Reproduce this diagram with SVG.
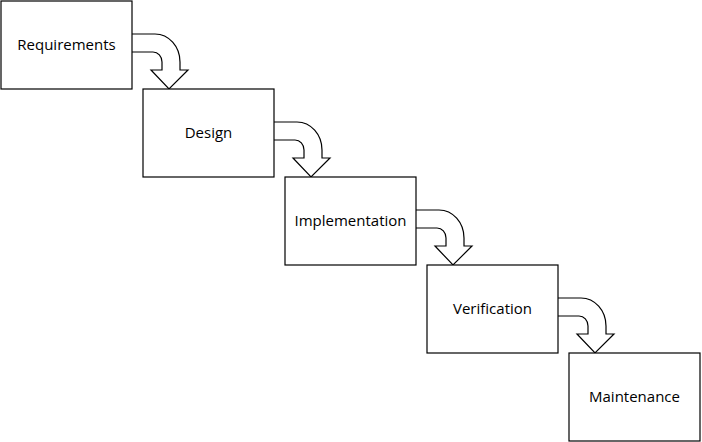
<svg xmlns="http://www.w3.org/2000/svg" width="702" height="442" viewBox="0 0 702 442">
<defs>
<style>
.box{fill:#fff;stroke:#000;stroke-width:1.2}
.arr{fill:#fff;stroke:#000;stroke-width:1.2;stroke-linejoin:miter}
.lbl{font-family:"Open Sans","Noto Sans",sans-serif;font-size:15px;fill:#000;text-anchor:middle}
</style>
<path id="a" class="arr" d="M132,34 H155 A25,28 0 0 1 180,62 V70 H188 L169,89 L151,70 H162 V62 A9,10 0 0 0 153,52 H132"/>
</defs>
<g id="connectors">
<use href="#a"/>
<use href="#a" transform="translate(142,88)"/>
<use href="#a" transform="translate(284,176)"/>
<use href="#a" transform="translate(426,264)"/>
</g>
<g id="requirements"><rect class="box" x="1" y="1" width="131" height="88"/><text class="lbl" x="66.5" y="50">Requirements</text></g>
<g id="design"><rect class="box" x="143" y="89" width="131" height="88"/><text class="lbl" x="208.5" y="138">Design</text></g>
<g id="implementation"><rect class="box" x="285" y="177" width="131" height="88"/><text class="lbl" x="350.5" y="226">Implementation</text></g>
<g id="verification"><rect class="box" x="427" y="265" width="131" height="88"/><text class="lbl" x="492.5" y="314">Verification</text></g>
<g id="maintenance"><rect class="box" x="569" y="353" width="131" height="88"/><text class="lbl" x="634.5" y="402">Maintenance</text></g>
</svg>
